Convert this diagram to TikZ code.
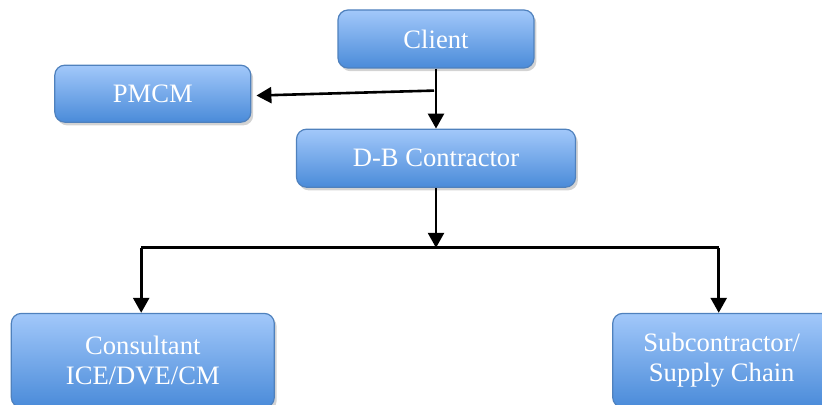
\documentclass[tikz,border=0pt]{standalone}
\usepackage{fontspec}
\setmainfont{Liberation Serif}
\usepackage{tikz}
\usetikzlibrary{positioning,arrows.meta,shadows}
\definecolor{boxtop}{RGB}{162,200,250}
\definecolor{boxbottom}{RGB}{74,139,217}
\definecolor{boxline}{RGB}{79,129,189}
\tikzset{
  rolebox/.style={draw=boxline, line width=0.6pt, rounded corners=5pt,
    top color=boxtop, bottom color=boxbottom, text=white, align=center,
    drop shadow={shadow xshift=1.2pt, shadow yshift=-1.6pt, opacity=0.35},
    font=\fontsize{13.3}{15}\selectfont},
  flow/.style={line width=1.3pt, -{Triangle[length=7.5pt,width=8pt]}},
}

\begin{document}
\begin{tikzpicture}
\useasboundingbox (0,0) rectangle (411pt,-202.5pt);
\node[rolebox, minimum width=98pt, minimum height=29pt] (client) at (218pt,-19.5pt) {Client};
\node[rolebox, minimum width=139.5pt, minimum height=29pt, below=30pt of client] (db) {D-B Contractor};
\node[rolebox, minimum width=98pt, minimum height=28.5pt, below left=-2pt and 43pt of client] (pmcm) {PMCM};
\node[rolebox, minimum width=131.5pt, minimum height=47pt, below left=62.5pt and 10.5pt of db] (cons) {Consultant\\ICE/DVE/CM};
\node[rolebox, minimum width=109pt, minimum height=47pt, below right=62.5pt and 18pt of db] (sub) {Subcontractor/\\Supply Chain};
% client to contractor, branch to pmcm
\coordinate[below=11pt of client] (tap);
\draw[flow] (client) -- (db);
\draw[flow, shorten >=2.5pt] ([xshift=-1pt]tap) -- ([yshift=-1pt]pmcm.east);
% contractor to the two parties below
\coordinate[below=30pt of db] (bus);
\draw[flow] (db) -- (bus);
\draw[line width=1.3pt] ([xshift=-0.8pt]cons.north |- bus) -- ([xshift=-1.5pt]sub.north |- bus);
\draw[flow] ([xshift=-0.8pt]cons.north |- bus) -- ([xshift=-0.8pt]cons.north);
\draw[flow] ([xshift=-1.5pt]sub.north |- bus) -- ([xshift=-1.5pt]sub.north);
\end{tikzpicture}
\end{document}
